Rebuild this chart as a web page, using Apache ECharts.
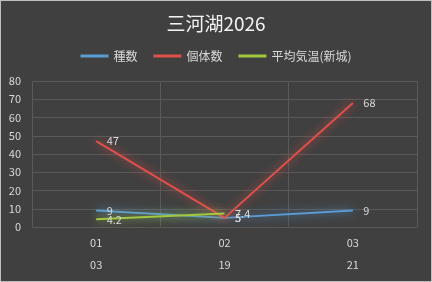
<!DOCTYPE html>
<html><head><meta charset="utf-8">
<script src="https://cdn.jsdelivr.net/npm/echarts@6/dist/echarts.min.js"></script>
<style>
html,body{margin:0;padding:0;background:#404040;}
#c{position:absolute;left:0;top:0;width:430px;height:280px;border:1px solid #bfbfbf;background:#404040;}
</style></head>
<body><div id="c"></div>
<script>
const categories = ['01\n03', '02\n19', '03\n21'];
const shuSu = [9, 5, 9];
const kotaiSu = [47, 5, 68];
const kion = [4.2, 7.4, null];
const yTicks = {min: 0, max: 80, interval: 10};

const font = '"Noto Sans CJK JP", "Noto Sans", sans-serif';
const chart = echarts.init(document.getElementById('c'));
function mk(name, data, color) {
  return {
    name, type: 'line', data, symbol: 'circle', symbolSize: 1, showSymbol: true, connectNulls: false,
    lineStyle: {color, width: 2, shadowBlur: 10, shadowColor: color},
    itemStyle: {color, opacity: 0},
    label: {show: true, position: 'right', color: '#d9d9d9', fontSize: 11, fontFamily: font, distance: 10, opacity: 1},
    labelLayout: {hideOverlap: false},
    emphasis: {disabled: true}
  };
}
chart.setOption({
  backgroundColor: '#404040',
  animation: false,
  title: {text: '三河湖2026', left: 'center', top: 8,
    textStyle: {color: '#f2f2f2', fontSize: 19, fontWeight: 'normal', fontFamily: font}},
  legend: {top: 44, left: 'center', itemWidth: 28, itemHeight: 3, itemGap: 16, icon: 'rect',
    textStyle: {color: '#d9d9d9', fontSize: 12, fontFamily: font},
    data: [
      {name: '種数', itemStyle: {color: '#5b9bd5', opacity: 1}},
      {name: '個体数', itemStyle: {color: '#e0504a', opacity: 1}},
      {name: '平均気温(新城)', itemStyle: {color: '#a2c83e', opacity: 1}}
    ]},
  grid: {left: 31, right: 14, top: 80, bottom: 54},
  xAxis: {type: 'category', data: categories, boundaryGap: true,
    axisLine: {show: false}, axisTick: {show: false},
    splitLine: {show: true, lineStyle: {color: '#595959', width: 1}},
    axisLabel: {color: '#d9d9d9', fontSize: 11, fontFamily: font, lineHeight: 22, margin: 5}},
  yAxis: {type: 'value', min: yTicks.min, max: yTicks.max, interval: yTicks.interval,
    axisLine: {show: false}, axisTick: {show: false},
    splitLine: {lineStyle: {color: '#595959', width: 1}},
    axisLabel: {color: '#d9d9d9', fontSize: 11, fontFamily: font, margin: 11}},
  series: [
    mk('種数', shuSu, '#5b9bd5'),
    mk('個体数', kotaiSu, '#e0504a'),
    mk('平均気温(新城)', kion, '#a2c83e')
  ]
});
</script></body></html>
